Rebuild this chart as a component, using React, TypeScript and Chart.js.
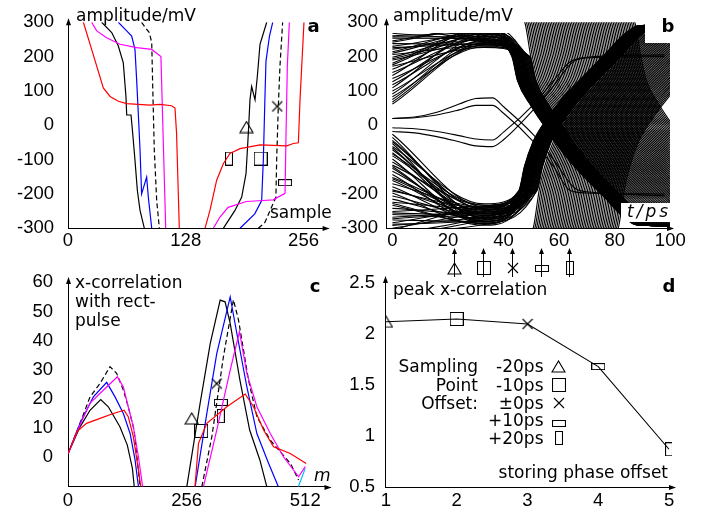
import { useEffect, useRef } from 'react';
import { Chart, registerables } from 'chart.js';

Chart.register(...registerables);

type Pt = [number, number];

// ---------------- Panel a : amplitude vs sample ----------------
const aXTicks = [0, 128, 256];
const mvTicks = [-300, -200, -100, 0, 100, 200, 300];
const aBlackL: Pt[] = [[36.6, 300], [47.5, 270], [54.7, 231], [60.1, 182], [63, 84], [63.8, 30], [68.5, 30], [70.3, -23], [72.8, -102], [75.4, -190], [78.3, -248], [83, -300]];
const aBlackR: Pt[] = [[168.8, -300], [181.5, -248], [188.8, -209], [193.5, -141], [195, -72], [196, -23], [197.8, 74], [199.6, 113], [203.3, 74], [205.8, 143], [208.7, 236], [216, 300]];
const aBlueL: Pt[] = [[54.7, 300], [63.8, 275], [69.2, 260], [72.8, 221], [74.6, 133], [76.4, 35], [78.3, -72], [80, -200], [85.5, -151], [87.3, -209], [91, -300]];
const aBlueR: Pt[] = [[187, -300], [203, -258], [210.5, -219], [212.3, -102], [214, 74], [215.2, 187], [219, 260], [222.5, 300]];
const aDashL: Pt[] = [[80, 300], [84, 285], [88.4, 270], [91, 241], [92, 123], [93.8, -72], [96.4, -219], [99.3, -300]];
const aDashR: Pt[] = [[206.9, -300], [214, -283], [226, -209], [226.8, -102], [228.6, 55], [230.4, 172], [233.3, 300]];
const aMagL: Pt[] = [[25.7, 300], [31.2, 275], [42, 255], [56.5, 236], [74.6, 226], [91, 221], [101, 200], [106.2, -300]];
const aMagR: Pt[] = [[158, -300], [165, -268], [174, -239], [194, -222], [212, -219], [223, -217], [235.9, -198], [237, -23], [238.4, 172], [240.6, 300]];
const aRedL: Pt[] = [[16.7, 300], [25.7, 221], [38.4, 109], [45.7, 84], [54.7, 70], [63.8, 63], [89, 59], [100, 61], [112.7, 57], [116.3, 50], [118, -23], [121, -300]];
const aRedR: Pt[] = [[148.9, -300], [154.3, -248], [161.6, -160], [168.8, -112], [176, -82], [187, -68], [208.7, -57], [237.7, -60], [245, -53], [250.4, -51], [252.2, 74], [256.5, 300]];
// sampling-point markers: -20ps, -10ps, ±0ps, +10ps, +20ps
const aMarkers: Pt[] = [[194, -5], [209.4, -97], [227.5, 55], [235.9, -167], [175, -97]];

// ---------------- Panel b : eye diagram ----------------
const bXTicks = [0, 20, 40, 60, 80, 100];
const bFallDt = [-3, 0, 2, 4, 9, 13.5, 20.6, 27.8, 35, 42, 47, 80];
const bFallMv = [330, 295, 200, 130, 55, 0, -82, -149, -207, -266, -290, -295];
const bRiseDt = [-3, 0, 2, 4, 7, 10.5, 18, 26, 33, 40, 45, 80];
const bRiseMv = [-330, -295, -190, -120, -50, 0, 82, 149, 207, 266, 290, 295];
const bUpFanStart = [340, 328, 318, 309, 300, 292, 284, 276, 268, 261, 254, 246, 238, 230, 222, 214, 206, 198, 190, 181, 172, 163, 154, 145, 136, 127, 118, 109, 100, 91, 83, 75, 68, 62,
  335, 322, 305, 296, 288, 272, 258, 242, 226, 210, 194, 176];
const bUpFanRail = [270, 288, 256, 281, 247, 276, 262, 290, 243, 268, 253, 284, 236, 265, 249, 273, 231, 259, 241, 279, 227, 266, 252, 286, 238, 261, 245, 274, 233, 257, 229, 248, 240, 235,
  262, 279, 251, 287, 244, 270, 258, 283, 237, 266, 249, 275];
const bUpFanLeave = [41, 41.2, 41.4, 41.6, 41.8, 42, 42.2, 42.4, 42.6, 42.8, 43, 43.2, 43.4, 43.6, 43.8, 44, 44.2, 44.4, 44.6, 44.8, 45, 45.2, 45.4, 45.6, 45.8, 46, 46.2, 46.4, 46.6, 46.8, 47, 47.2, 47.4, 47.6,
  41.1, 41.5, 41.9, 42.3, 42.7, 43.1, 43.5, 43.9, 44.3, 44.7, 45.1, 45.5];
const bLoFanStart = [-26, -35, -44, -53, -62, -71, -80, -89, -98, -107, -116, -125, -134, -143, -152, -161, -170, -179, -188, -197, -206, -215, -224, -233, -242, -251, -260, -268, -276, -284, -292, -300, -312, -325,
  -48, -66, -84, -120, -156, -192, -228, -255, -272, -288, -305, -318];
const bLoFanRail = [-238, -263, -246, -282, -229, -256, -271, -241, -288, -251, -233, -276, -259, -285, -247, -267, -237, -279, -253, -291, -262, -273, -244, -286, -258, -235, -269, -249, -280, -242, -265, -254, -289, -275,
  -245, -270, -233, -281, -257, -240, -286, -262, -249, -276, -236, -268];
const bLoFanLeave = [43.5, 43.7, 43.9, 44.1, 44.3, 44.5, 44.7, 44.9, 45.1, 45.3, 45.5, 45.7, 45.9, 46.1, 46.3, 46.5, 46.7, 46.9, 47.1, 47.3, 47.5, 47.7, 47.9, 48.1, 48.3, 48.5, 48.7, 48.9, 49.1, 49.3, 49.5, 49.7, 49.9, 50.1,
  43.6, 44, 44.4, 44.8, 45.2, 45.6, 46, 46.4, 46.8, 47.2, 47.6, 48];
const bHatchFall = [47.8, 48.4, 49, 49.6, 50.2, 50.8, 51.4, 52, 52.6, 53.2, 53.8, 54.4, 55, 55.6, 56.2, 56.8, 57.4, 58, 58.6, 59.2, 59.8, 60.4, 61, 61.6, 62.2, 62.8, 63.4, 64, 64.6, 65.2, 65.8, 66.4, 67, 67.6, 68.2, 68.8, 69.4, 70, 70.6, 71.2, 71.8, 72.4, 73, 73.6, 74.2, 74.8, 75.4, 76, 76.6, 77.2, 77.8, 78.4, 79, 79.6, 80.2, 80.8, 81.4, 82, 82.6, 83.2, 83.8, 84.4, 85, 85.6, 86.2, 86.8, 87.4];
const bHatchRise = [50.8, 51.4, 52, 52.6, 53.2, 53.8, 54.4, 55, 55.6, 56.2, 56.8, 57.4, 58, 58.6, 59.2, 59.8, 60.4, 61, 61.6, 62.2, 62.8, 63.4, 64, 64.6, 65.2, 65.8, 66.4, 67, 67.6, 68.2, 68.8, 69.4, 70, 70.6, 71.2, 71.8, 72.4, 73, 73.6, 74.2, 74.8, 75.4, 76, 76.6, 77.2, 77.8, 78.4, 79, 79.6, 80.2, 80.8, 81.4];
const bCenterA: Pt[] = [[0, 20], [8, 24], [16, 38], [24, 62], [30, 78], [36, 80], [40, 54], [50.8, -28], [58, -100], [66, -185], [72, -195], [98, -205]];
const bCenterB: Pt[] = [[0, 20], [8, 22], [16, 30], [24, 45], [30, 58], [36, 58], [40, 35], [50.8, -48], [58, -120], [64, -190], [70, -197], [98, -200]];
const bCenterC: Pt[] = [[0, -7], [8, -10], [16, -18], [24, -30], [30, -40], [36, -43], [40, -20], [50.6, 59], [58, 130], [64, 185], [70, 198], [98, 205]];
const bCenterD: Pt[] = [[0, -18], [8, -22], [16, -33], [24, -48], [30, -60], [36, -62], [40, -42], [50.6, 44], [58, 115], [66, 190], [72, 197], [98, 200]];
const bSampleTimes = [22, 32.5, 43, 53.3, 63.6];

// ---------------- Panel c : x-correlation ----------------
const cXTicks = [0, 256, 512];
const cYTicks = [0, 10, 20, 30, 40, 50, 60];
const cBlackL: Pt[] = [[0, 1], [26, 10.3], [47.5, 16], [70.6, 19.7], [87, 17.2], [112, 10.3], [128, 4], [139, -4], [143, -10.3]];
const cBlueL: Pt[] = [[0, 1], [26, 11.5], [54.7, 20.6], [83.5, 25.6], [101.5, 20.6], [119.5, 14.9], [134, 8], [144.7, -1.1], [152, -10.3]];
const cDashL: Pt[] = [[0, 1], [26, 11.5], [47.5, 20.6], [69, 25.2], [90.7, 31], [105, 28.7], [119.5, 22.9], [130, 17.2], [142.6, 9.2], [155.5, -10.3]];
const cMagL: Pt[] = [[0, 1], [26, 11], [47.5, 18.5], [83.5, 24], [106.6, 27.5], [119.5, 24], [130, 17.2], [141, 10.3], [152, 0], [161, -10.3]];
const cRedL: Pt[] = [[0, 1], [18.7, 8.6], [40, 11.5], [69, 13.2], [98, 14.9], [121, 16], [130, 13.8], [141, 6.9], [152, -4.6], [157, -10.3]];
const cBlackR: Pt[] = [[256.4, -10.3], [285, 18.3], [307, 39], [328.4, 53.9], [339, 53.3], [350, 45.9], [371, 26.4], [392, 9.2], [414, -1.1], [429, -10.3]];
const cBlueR: Pt[] = [[274.4, -10.3], [299.6, 14.9], [321, 35.5], [350, 55], [364.4, 42.4], [386, 24], [407.6, 8], [433, -2.3], [454, -10.3]];
const cDashR: Pt[] = [[288.8, -10.3], [310.4, 6.9], [335.4, 34.4], [357, 54], [368, 47], [389.5, 26.4], [407.6, 13.8], [436.5, 5.7], [480, -2.3], [497.6, -8]];
const cMagR: Pt[] = [[292.3, -10.3], [321, 9.2], [350, 29.8], [370, 43], [386, 28.7], [407.6, 17.2], [436.5, 8], [465, 0], [497.6, -6.9], [512, -3.4]];
const cRedR: Pt[] = [[274, -10.3], [281.6, 4.6], [299.6, 11.5], [342.8, 17.2], [382.4, 21.6], [400.4, 17.2], [422, 9.2], [443.6, 3.4], [479.6, 1.1], [514, -2.3]];
const cCyan: Pt[] = [[497, -10.3], [512, -4]];
const cMarkers: Pt[] = [[267, 13.2], [287.3, 8.9], [321, 25.2], [329.8, 18.7], [329.8, 14]];

// ---------------- Panel d : peak x-correlation ----------------
const dXTicks = [1, 2, 3, 4, 5];
const dYTicks = [0.5, 1, 1.5, 2, 2.5];
const dPhase = [1, 2, 3, 4, 5];
const dPeak = [2.12, 2.147, 2.098, 1.68, 0.87];
const legendOffsets = ['-20ps', '-10ps', '±0ps', '+10ps', '+20ps'];
const legendTitle = ['Sampling', 'Point', 'Offset:'];

const MARKER_KINDS = ['tri', 'sq', 'x', 'wide', 'narrow'];

const pts = (a: Pt[]) => a.map(([x, y]) => ({ x, y }));

function markerCanvas(kind: string): HTMLCanvasElement {
  const dims: Record<string, [number, number]> = { tri: [15, 13], sq: [14, 14], x: [12, 12], wide: [14, 7], narrow: [8, 14] };
  const [w, h] = dims[kind];
  const c = document.createElement('canvas');
  c.width = w;
  c.height = h;
  const g = c.getContext('2d')!;
  g.strokeStyle = '#000';
  g.lineWidth = 1.1;
  g.beginPath();
  if (kind === 'tri') {
    g.moveTo(1, h - 1);
    g.lineTo(w / 2, 1);
    g.lineTo(w - 1, h - 1);
    g.closePath();
  } else if (kind === 'x') {
    g.moveTo(1, 1);
    g.lineTo(w - 1, h - 1);
    g.moveTo(w - 1, 1);
    g.lineTo(1, h - 1);
  } else {
    g.rect(0.5, 0.5, w - 1, h - 1);
  }
  g.stroke();
  return c;
}

const tickFont = { family: 'Liberation Sans', size: 18.5 };
const LABEL = '17px "DejaVu Sans"';
const BOLD = 'bold 18px "DejaVu Sans"';
const ITAL = 'italic 17px "DejaVu Sans"';
const X_AXIS_H = 26;

function scalesFor(p: any) {
  return {
    x: {
      type: 'linear',
      min: p.xMin,
      max: p.xMax,
      afterBuildTicks: (s: any) => { s.ticks = p.xTicks.map((v: number) => ({ value: v })); },
      afterFit: (s: any) => { s.height = X_AXIS_H; s.paddingLeft = 0; s.paddingRight = 0; },
      grid: { display: false, drawTicks: false },
      border: { display: true, color: '#000', width: 1 },
      ticks: { font: tickFont, color: '#000', padding: p.xPad, maxRotation: 0, autoSkip: false, callback: (v: any) => String(v) },
    },
    y: {
      type: 'linear',
      min: p.yMin,
      max: p.yMax,
      afterBuildTicks: (s: any) => { s.ticks = p.yTicks.map((v: number) => ({ value: v })); },
      afterFit: (s: any) => { s.width = p.yWidth; s.paddingTop = 0; s.paddingBottom = 0; },
      grid: { display: false, drawTicks: false },
      border: { display: true, color: '#000', width: 1 },
      ticks: { font: tickFont, color: '#000', padding: p.yPad, autoSkip: false, callback: (v: any) => String(v) },
    },
  };
}

function axisArrows(ctx: CanvasRenderingContext2D, area: any) {
  ctx.save();
  ctx.fillStyle = '#000';
  ctx.strokeStyle = '#000';
  ctx.lineWidth = 1;
  const x = Math.round(area.left) + 0.5;
  ctx.beginPath();
  ctx.moveTo(x, area.top);
  ctx.lineTo(x, area.top - 3);
  ctx.stroke();
  ctx.beginPath();
  ctx.moveTo(x, area.top - 4);
  ctx.lineTo(x - 2.5, area.top + 3);
  ctx.lineTo(x + 2.5, area.top + 3);
  ctx.closePath();
  ctx.fill();
  const y = Math.round(area.bottom) + 0.5;
  ctx.beginPath();
  ctx.moveTo(area.right, y);
  ctx.lineTo(area.right + 3, y);
  ctx.stroke();
  ctx.beginPath();
  ctx.moveTo(area.right + 4, y);
  ctx.lineTo(area.right - 3, y - 2.5);
  ctx.lineTo(area.right - 3, y + 2.5);
  ctx.closePath();
  ctx.fill();
  ctx.restore();
}

function text(ctx: CanvasRenderingContext2D, s: string, x: number, y: number, font: string, align: CanvasTextAlign = 'left', spacing = '0px') {
  ctx.save();
  ctx.font = font;
  ctx.fillStyle = '#000';
  ctx.textAlign = align;
  ctx.textBaseline = 'alphabetic';
  (ctx as any).letterSpacing = spacing;
  ctx.fillText(s, x, y);
  ctx.restore();
}

function whiteBox(ctx: CanvasRenderingContext2D, x: number, y: number, w: number, h: number) {
  ctx.save();
  ctx.fillStyle = '#fff';
  ctx.fillRect(x, y, w, h);
  ctx.restore();
}

function line(data: Pt[], color: string, dash: number[] = [], width = 1.2) {
  return { data: pts(data), borderColor: color, borderWidth: width, borderDash: dash, pointRadius: 0, fill: false, tension: 0 };
}

function markerSets(list: Pt[], marks: any) {
  return list.map((p, i) => ({
    data: pts([p]),
    showLine: false,
    pointStyle: marks[MARKER_KINDS[i]],
    pointRadius: 6,
    borderColor: '#000',
    backgroundColor: 'rgba(0,0,0,0)',
  }));
}

function baseOptions(scales: any, padding: any) {
  return {
    responsive: false,
    animation: false,
    events: [],
    layout: { padding },
    plugins: { legend: { display: false }, tooltip: { enabled: false }, title: { display: false } },
    scales,
  };
}

function configA(marks: any) {
  const datasets = [
    line(aRedL, '#ff0000'), line(aRedR, '#ff0000'),
    line(aMagL, '#ff00ff'), line(aMagR, '#ff00ff'),
    line(aBlueL, '#0000ff'), line(aBlueR, '#0000ff'),
    line(aBlackL, '#000'), line(aBlackR, '#000'),
    line(aDashL, '#000', [5, 3]), line(aDashR, '#000', [5, 3]),
    ...markerSets(aMarkers, marks),
  ];
  return {
    type: 'line',
    data: { datasets },
    options: baseOptions(
      scalesFor({ xMin: 0, xMax: 280, xTicks: aXTicks, yMin: -300, yMax: 300, yTicks: mvTicks, yWidth: 60, yPad: 14, xPad: 2 }),
      { left: 8, top: 22.3, right: 380.4, bottom: 515 - 228.3 - X_AXIS_H },
    ),
    plugins: [{
      id: 'extrasA',
      afterDraw(chart: any) {
        const ctx = chart.ctx;
        axisArrows(ctx, chart.chartArea);
        text(ctx, 'amplitude/mV', 76, 21, LABEL);
        text(ctx, 'a', 313.5, 31.5, BOLD, 'center');
        text(ctx, 'sample', 270, 218, LABEL);
      },
    }],
  };
}

function configB(marks: any) {
  const datasets: any[] = [];
  const trace = (data: { x: number; y: number }[]) => ({
    data, borderColor: '#000', borderWidth: 1.1, pointRadius: 0, fill: false, cubicInterpolationMode: 'monotone',
  });
  bUpFanStart.forEach((s, i) => {
    const t0 = bUpFanLeave[i];
    const d = [{ x: 0, y: s }, { x: 33, y: bUpFanRail[i] }];
    bFallDt.forEach((dt, k) => { if (k >= 2) d.push({ x: t0 + dt, y: bFallMv[k] }); });
    datasets.push(trace(d));
  });
  bLoFanStart.forEach((s, i) => {
    const t0 = bLoFanLeave[i];
    const d = [{ x: 0, y: s }, { x: 33, y: bLoFanRail[i] }];
    bRiseDt.forEach((dt, k) => { if (k >= 2) d.push({ x: t0 + dt, y: bRiseMv[k] }); });
    datasets.push(trace(d));
  });
  bHatchFall.forEach((t0) => datasets.push(trace(bFallDt.map((dt, k) => ({ x: t0 + dt, y: bFallMv[k] })))));
  bHatchRise.forEach((t0) => datasets.push(trace(bRiseDt.map((dt, k) => ({ x: t0 + dt, y: bRiseMv[k] })))));
  [bCenterA, bCenterB, bCenterC, bCenterD].forEach((c) => datasets.push(trace(pts(c))));
  return {
    type: 'line',
    data: { datasets },
    options: baseOptions(
      scalesFor({ xMin: -2.3, xMax: 99.9, xTicks: bXTicks, yMin: -300, yMax: 300, yTicks: mvTicks, yWidth: 55, yPad: 8, xPad: 2 }),
      { left: 331, top: 22.3, right: 36, bottom: 515 - 228.3 - X_AXIS_H },
    ),
    plugins: [{
      id: 'extrasB',
      afterDraw(chart: any) {
        const ctx = chart.ctx;
        whiteBox(ctx, 388, 0, 134, 33);
        whiteBox(ctx, 645, 0, 61, 43);
        whiteBox(ctx, 621, 203, 50, 19);
        axisArrows(ctx, chart.chartArea);
        text(ctx, 'amplitude/mV', 393, 21, LABEL);
        text(ctx, 'b', 668, 32, BOLD, 'center');
        text(ctx, 't/ps', 627, 217, ITAL, 'left', '3px');
        // sampling point arrows below the time axis
        const xs = chart.scales.x;
        ctx.save();
        ctx.strokeStyle = '#000';
        ctx.fillStyle = '#000';
        ctx.lineWidth = 1;
        bSampleTimes.forEach((t, i) => {
          const x = Math.round(xs.getPixelForValue(t)) + 0.5;
          ctx.beginPath();
          ctx.moveTo(x, 251);
          ctx.lineTo(x, 277);
          ctx.stroke();
          ctx.beginPath();
          ctx.moveTo(x, 248);
          ctx.lineTo(x - 2.5, 254);
          ctx.lineTo(x + 2.5, 254);
          ctx.closePath();
          ctx.fill();
          const m = marks[MARKER_KINDS[i]];
          ctx.drawImage(m, Math.round(x - m.width / 2), Math.round(268 - m.height / 2));
        });
        ctx.restore();
      },
    }],
  };
}

function configC(marks: any) {
  const datasets = [
    line(cRedL, '#ff0000'), line(cRedR, '#ff0000'),
    line(cMagL, '#ff00ff'), line(cMagR, '#ff00ff'),
    line(cBlueL, '#0000ff'), line(cBlueR, '#0000ff'),
    line(cBlackL, '#000'), line(cBlackR, '#000'),
    line(cDashL, '#000', [5, 3]), line(cDashR, '#000', [5, 3]),
    line(cCyan, '#00bfff'),
    ...markerSets(cMarkers, marks),
  ];
  return {
    type: 'line',
    data: { datasets },
    options: baseOptions(
      scalesFor({ xMin: 0, xMax: 560, xTicks: cXTicks, yMin: -10.3, yMax: 60.5, yTicks: cYTicks, yWidth: 60, yPad: 15, xPad: 3 }),
      { left: 8, top: 280.9, right: 378.5, bottom: 515 - 486.7 - X_AXIS_H },
    ),
    plugins: [{
      id: 'extrasC',
      afterDraw(chart: any) {
        const ctx = chart.ctx;
        axisArrows(ctx, chart.chartArea);
        text(ctx, 'x-correlation', 75, 288, LABEL);
        text(ctx, 'with rect-', 75, 307, LABEL);
        text(ctx, 'pulse', 75, 326, LABEL);
        text(ctx, 'c', 315, 291.5, BOLD, 'center');
        text(ctx, 'm', 314, 481, ITAL);
      },
    }],
  };
}

function configD(marks: any) {
  const datasets = [{
    data: dPhase.map((x, i) => ({ x, y: dPeak[i] })),
    borderColor: '#000',
    borderWidth: 1.1,
    tension: 0,
    fill: false,
    pointStyle: MARKER_KINDS.map((k) => marks[k]),
    pointRadius: 6,
    backgroundColor: 'rgba(0,0,0,0)',
  }];
  return {
    type: 'line',
    data: { datasets },
    options: baseOptions(
      scalesFor({ xMin: 0.986, xMax: 5.042, xTicks: dXTicks, yMin: 0.5, yMax: 2.53, yTicks: dYTicks, yWidth: 40, yPad: 10, xPad: 3 }),
      { left: 345, top: 279.9, right: 34, bottom: 515 - 487 - X_AXIS_H },
    ),
    plugins: [{
      id: 'extrasD',
      afterDraw(chart: any) {
        const ctx = chart.ctx;
        axisArrows(ctx, chart.chartArea);
        text(ctx, 'peak x-correlation', 393, 295, LABEL);
        text(ctx, 'd', 669, 291.5, BOLD, 'center');
        text(ctx, 'storing phase offset', 668, 478, LABEL, 'right');
        const rows = [372, 390.5, 409, 426, 443.5];
        legendTitle.forEach((s, i) => text(ctx, s, 478, rows[i], LABEL, 'right'));
        const markY = [366.7, 385, 402.7, 423, 438.3];
        legendOffsets.forEach((s, i) => {
          text(ctx, s, 543.5, rows[i], LABEL, 'right');
          const m = marks[MARKER_KINDS[i]];
          ctx.drawImage(m, Math.round(558.5 - m.width / 2), Math.round(markY[i] - m.height / 2));
        });
      },
    }],
  };
}

export default function App() {
  const ra = useRef<HTMLCanvasElement>(null);
  const rb = useRef<HTMLCanvasElement>(null);
  const rc = useRef<HTMLCanvasElement>(null);
  const rd = useRef<HTMLCanvasElement>(null);

  useEffect(() => {
    const marks: any = {};
    MARKER_KINDS.forEach((k) => { marks[k] = markerCanvas(k); });
    const charts = [
      new Chart(ra.current!, configA(marks) as any),
      new Chart(rb.current!, configB(marks) as any),
      new Chart(rc.current!, configC(marks) as any),
      new Chart(rd.current!, configD(marks) as any),
    ];
    return () => charts.forEach((c) => c.destroy());
  }, []);

  const cs: any = { position: 'absolute', left: 0, top: 0, width: 706, height: 515 };
  return (
    <div style={{ position: 'fixed', left: 0, top: 0, width: 706, height: 515, background: '#fff', overflow: 'hidden' }}>
      <canvas ref={ra} width={706} height={515} style={cs} />
      <canvas ref={rb} width={706} height={515} style={cs} />
      <canvas ref={rc} width={706} height={515} style={cs} />
      <canvas ref={rd} width={706} height={515} style={cs} />
    </div>
  );
}
